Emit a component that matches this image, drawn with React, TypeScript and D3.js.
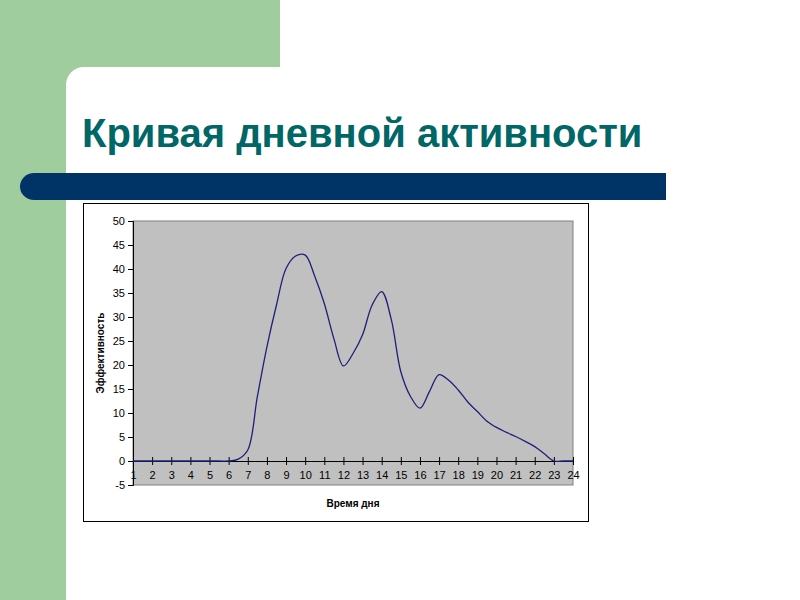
import { useEffect, useRef } from "react";
import * as d3 from "d3";

// hour of day (half-hour steps) and efficiency
const hours = [
    1, 1.5, 2, 2.5, 3, 3.5, 4, 4.5, 5, 5.5, 6, 6.5, 7, 7.5, 8, 8.5, 9, 9.5, 10, 10.5, 11, 11.5, 12, 12.5,
    13, 13.5, 14, 14.5, 15, 15.5, 16, 16.5, 17, 17.5, 18, 18.5, 19, 19.5, 20, 20.5, 21, 21.5, 22, 22.5,
    23, 23.5, 24,
];
const efficiency = [
    0, 0, 0, 0, 0, 0, 0, 0, 0, 0, 0, 0.4, 2.3, 13.4, 23.8, 32.5, 40.1, 42.7, 42.9, 38.5, 32.8, 25.5, 19.8, 22.4,
    26.3, 32.5, 35.3, 29.5, 18.6, 13.5, 11, 14.5, 18, 16.8, 14.8, 12.3, 10.3, 8.3, 7.0, 6.0, 5.1, 4.1, 3.0, 1.5,
    0, 0, 0,
];
const hourTicks = [1, 2, 3, 4, 5, 6, 7, 8, 9, 10, 11, 12, 13, 14, 15, 16, 17, 18, 19, 20, 21, 22, 23, 24];
const valueTicks = [-5, 0, 5, 10, 15, 20, 25, 30, 35, 40, 45, 50];

const title = "Кривая дневной активности";
const xTitle = "Время дня";
const yTitle = "Эффективность";

const font = "'Liberation Sans', Arial, sans-serif";

const App = () => {
    const svgRef = useRef<SVGSVGElement>(null);

    useEffect(() => {
        if (!svgRef.current) return;
        const svg = d3.select(svgRef.current);
        svg.selectAll("*").remove();

        // slide background
        svg.append("rect").attr("width", 800).attr("height", 600).attr("fill", "#ffffff");
        svg.append("rect").attr("x", 0).attr("y", 0).attr("width", 66).attr("height", 600).attr("fill", "#9fcd9e");
        svg.append("rect").attr("x", 0).attr("y", 0).attr("width", 280).attr("height", 67).attr("fill", "#9fcd9e");
        // rounded corner of the white area
        svg.append("path")
            .attr("d", "M66,67 L84,67 A18,18 0 0 0 66,85 Z")
            .attr("fill", "#9fcd9e");

        svg.append("text")
            .attr("x", 82)
            .attr("y", 147)
            .attr("font-family", font)
            .attr("font-weight", "bold")
            .attr("font-size", 40)
            .attr("fill", "#006666")
            .text(title);

        // navy bar with rounded left end
        svg.append("path")
            .attr("d", "M34,173 L666,173 L666,200 L34,200 A14,13.5 0 0 1 34,173 Z")
            .attr("fill", "#003366");

        // chart box
        svg.append("rect")
            .attr("x", 83.5)
            .attr("y", 203.5)
            .attr("width", 505)
            .attr("height", 318)
            .attr("fill", "#ffffff")
            .attr("stroke", "#000000")
            .attr("stroke-width", 1);

        const left = 133;
        const right = 573;
        const top = 221;
        const bottom = 485;

        const x = d3.scaleLinear().domain([1, 24]).range([left, right]);
        const y = d3.scaleLinear().domain([-5, 50]).range([bottom, top]);

        // plot area
        svg.append("rect")
            .attr("x", left)
            .attr("y", top)
            .attr("width", right - left)
            .attr("height", bottom - top)
            .attr("fill", "#c0c0c0")
            .attr("stroke", "#808080")
            .attr("stroke-width", 1);

        // y axis
        const yAxis = svg.append("g")
            .attr("transform", `translate(${left},0)`)
            .call(d3.axisLeft(y).tickValues(valueTicks).tickSize(5).tickPadding(3).tickFormat((d) => String(d)));
        yAxis.select(".domain").attr("stroke", "#000000");
        yAxis.selectAll("line").attr("stroke", "#000000");
        yAxis.selectAll("text")
            .attr("font-family", font)
            .attr("font-size", 11)
            .attr("fill", "#000000");

        // x axis crossing at zero
        const xAxis = svg.append("g")
            .attr("transform", `translate(0,${y(0)})`)
            .call(d3.axisBottom(x).tickValues(hourTicks).tickSize(4).tickPadding(6).tickFormat((d) => String(d)));
        xAxis.select(".domain").attr("stroke", "#000000");
        xAxis.selectAll("line").attr("stroke", "#000000").attr("y1", -4);
        xAxis.selectAll("text")
            .attr("font-family", font)
            .attr("font-size", 11)
            .attr("fill", "#000000");

        // curve
        const line = d3.line<number>()
            .x((_, i) => x(hours[i]))
            .y((d) => y(d))
            .curve(d3.curveCatmullRom);

        svg.append("path")
            .datum(efficiency)
            .attr("d", line)
            .attr("fill", "none")
            .attr("stroke", "#1f1f7a")
            .attr("stroke-width", 1.3);

        // axis titles
        svg.append("text")
            .attr("x", (left + right) / 2)
            .attr("y", 507)
            .attr("text-anchor", "middle")
            .attr("font-family", font)
            .attr("font-weight", "bold")
            .attr("font-size", 10)
            .text(xTitle);

        svg.append("text")
            .attr("transform", `translate(104,${(top + bottom) / 2}) rotate(-90)`)
            .attr("text-anchor", "middle")
            .attr("font-family", font)
            .attr("font-weight", "bold")
            .attr("font-size", 10)
            .text(yTitle);
    }, []);

    return (
        <svg
            ref={svgRef}
            width={800}
            height={600}
            style={{ position: "absolute", left: 0, top: 0 }}
        />
    );
};

export default App;
